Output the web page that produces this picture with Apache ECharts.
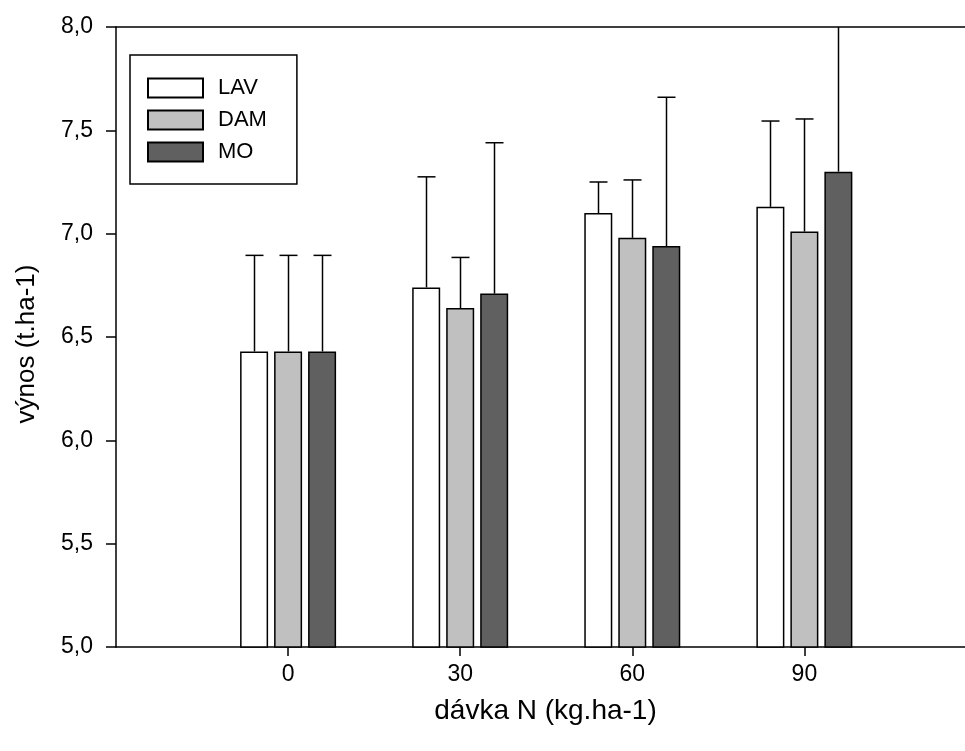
<!DOCTYPE html>
<html>
<head>
<meta charset="utf-8">
<script src="https://cdn.jsdelivr.net/npm/echarts@6/dist/echarts.min.js"></script>
<style>html,body{margin:0;padding:0;background:#fff}#c{width:965px;height:751px}</style>
</head>
<body>
<div id="c"></div>
<script>
// Data
const categories = [0, 30, 60, 90];
const seriesNames = ['LAV', 'DAM', 'MO'];
const lavMean = [6.43, 6.74, 7.10, 7.13];
const damMean = [6.43, 6.64, 6.98, 7.01];
const moMean  = [6.43, 6.71, 6.94, 7.30];
const lavErrTop = [6.895, 7.275, 7.25, 7.545];
const damErrTop = [6.895, 6.885, 7.26, 7.555];
const moErrTop  = [6.895, 7.44, 7.66, 8.10];
const yMin = 5, yMax = 8, yStep = 0.5;

const means = [lavMean, damMean, moMean];
const errTops = [lavErrTop, damErrTop, moErrTop];
const colors = ['#ffffff', '#c0c0c0', '#606060'];
const BAR_W = 28, BAR_GAP = 6;
const FONT = '"Liberation Sans", Arial, sans-serif';

const series = [];
seriesNames.forEach((name, si) => {
  series.push({
    name: name,
    type: 'bar',
    barWidth: BAR_W,
    barGap: (BAR_GAP / BAR_W * 100) + '%',
    clip: true,
    itemStyle: { color: colors[si], borderColor: '#000', borderWidth: 1.5 },
    data: categories.map((c, i) => [c, means[si][i]]),
    z: 2
  });
});
seriesNames.forEach((name, si) => {
  const offset = (si - 1) * (BAR_W + BAR_GAP);
  series.push({
    type: 'custom',
    clip: true,
    z: 3,
    silent: true,
    data: categories.map((c, i) => [c, means[si][i], errTops[si][i]]),
    encode: { x: 0, y: [1, 2] },
    renderItem: function (params, api) {
      const b = api.coord([api.value(0), api.value(1)]);
      const t = api.coord([api.value(0), api.value(2)]);
      const x = Math.round(b[0] + offset) + 0.5;
      const st = { stroke: '#000', lineWidth: 1.5 };
      return {
        type: 'group',
        children: [
          { type: 'line', shape: { x1: x, y1: b[1], x2: x, y2: t[1] }, style: st },
          { type: 'line', shape: { x1: x - 9, y1: t[1], x2: x + 9, y2: t[1] }, style: st }
        ]
      };
    }
  });
});

const chart = echarts.init(document.getElementById('c'), null, { renderer: 'canvas' });
chart.setOption({
  animation: false,
  backgroundColor: '#fff',
  textStyle: { fontFamily: FONT },
  grid: { left: 116, right: 0, top: 27, bottom: 104, containLabel: false },
  legend: {
    data: seriesNames,
    orient: 'vertical',
    left: 130,
    top: 55,
    padding: [22, 30, 21, 17],
    borderColor: '#000',
    borderWidth: 1.5,
    icon: 'rect',
    itemWidth: 55,
    itemHeight: 19,
    itemGap: 10,
    textStyle: { fontFamily: FONT, fontSize: 22, color: '#000', lineHeight: 19, padding: [0, 0, 0, 10] }
  },
  xAxis: [{
    type: 'value',
    min: -30,
    max: 118,
    name: 'dávka N (kg.ha-1)',
    nameLocation: 'middle',
    nameGap: 50,
    nameTextStyle: { fontFamily: FONT, fontSize: 28, color: '#000', padding: [0, 0, 0, 10] },
    axisLine: { show: true, onZero: false, lineStyle: { color: '#000', width: 1.5 } },
    axisTick: { show: true, length: 9, customValues: categories, lineStyle: { color: '#000', width: 1.5 } },
    axisLabel: { customValues: categories, fontSize: 23, color: '#000', margin: 16, fontFamily: FONT },
    splitLine: { show: false }
  }, {
    type: 'value',
    position: 'top',
    min: -30,
    max: 118,
    axisLine: { show: true, onZero: false, lineStyle: { color: '#000', width: 1.5 } },
    axisTick: { show: false },
    axisLabel: { show: false },
    splitLine: { show: false }
  }],
  yAxis: {
    type: 'value',
    min: yMin,
    max: yMax,
    interval: yStep,
    name: 'výnos (t.ha-1)',
    nameLocation: 'middle',
    nameGap: 76,
    nameTextStyle: { fontFamily: FONT, fontSize: 26, color: '#000', padding: [0, 14, 0, 0] },
    axisLine: { show: true, onZero: false, lineStyle: { color: '#000', width: 1.5 } },
    axisTick: { show: true, length: 10, lineStyle: { color: '#000', width: 1.5 } },
    axisLabel: { fontSize: 23, color: '#000', margin: 23, fontFamily: FONT,
      formatter: v => v.toFixed(1).replace('.', ',') },
    splitLine: { show: false }
  },
  series: series
});
</script>
</body>
</html>
